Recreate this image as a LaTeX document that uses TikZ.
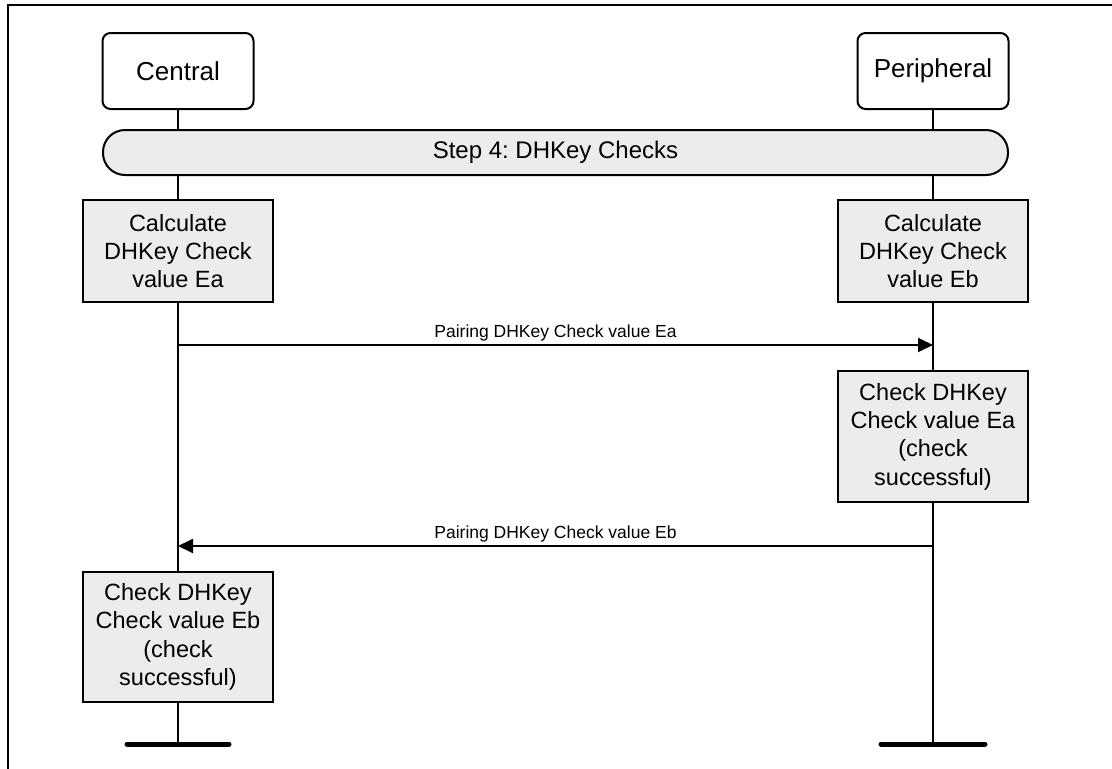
\documentclass[tikz,border=0pt]{standalone}
\usepackage{fontspec}
\setmainfont{Liberation Sans}
\usetikzlibrary{arrows.meta, positioning, backgrounds}
\frenchspacing

\begin{document}
\begin{tikzpicture}[x=1pt,y=-1pt,
  head/.style={draw,line width=2pt,rounded corners=8pt,minimum width=151pt,minimum height=76pt,font=\fontsize{26}{30}\selectfont},
  stepbar/.style={draw,line width=2pt,fill=gray!15,rounded corners=22pt,minimum width=905pt,minimum height=45pt,font=\fontsize{24}{28}\selectfont},
  action/.style={draw,line width=2pt,fill=gray!15,minimum width=190pt,align=center,font=\fontsize{23.5}{28.3}\selectfont},
  msg/.style={line width=1.8pt,-{Triangle[length=15pt,width=14pt]}},
  msglabel/.style={above,font=\fontsize{17.5}{20}\selectfont},
  life/.style={line width=1.8pt},
  endbar/.style={line width=5pt,line cap=round}]
  \useasboundingbox (0,0) rectangle (1112,769);
  \def\cx{178}
  \def\px{933}
  % frame (top and left only)
  \draw[line width=1.6pt] (8,769) -- (8,5) -- (1112,5);
  % heads
  \node[head] (central) at (\cx,71) {Central};
  \node[head] (peripheral) at (\px,71) {Peripheral};
  \node[stepbar] (step) at (555.5,152.5) {Step 4: DHKey Checks};
  % actions
  \node[action,minimum height=102pt] (calcEa) at (\cx,251) {Calculate\\DHKey Check\\value Ea};
  \node[action,minimum height=102pt] (calcEb) at (\px,251) {Calculate\\DHKey Check\\value Eb};
  \node[action,minimum height=131pt] (checkEa) at (\px,436.5) {Check DHKey\\Check value Ea\\(check\\successful)};
  \node[action,minimum height=130pt] (checkEb) at (\cx,637) {Check DHKey\\Check value Eb\\(check\\successful)};
  % lifeline ends
  \coordinate (endC) at (\cx,744);
  \coordinate (endP) at (\px,744);
  \begin{pgfonlayer}{background}
    \draw[life] (central) -- (endC);
    \draw[life] (peripheral) -- (endP);
  \end{pgfonlayer}
  \draw[endbar] ([xshift=-51pt]endC) -- ([xshift=51pt]endC);
  \draw[endbar] ([xshift=-52pt]endP) -- ([xshift=52pt]endP);
  % messages
  \coordinate (eaFrom) at (\cx,345);
  \coordinate (eaTo) at (\px,345);
  \coordinate (ebFrom) at (\px,546);
  \coordinate (ebTo) at (\cx,546);
  \draw[msg] (eaFrom) -- node[msglabel] {Pairing DHKey Check value Ea} (eaTo);
  \draw[msg] (ebFrom) -- node[msglabel] {Pairing DHKey Check value Eb} (ebTo);
\end{tikzpicture}
\end{document}
